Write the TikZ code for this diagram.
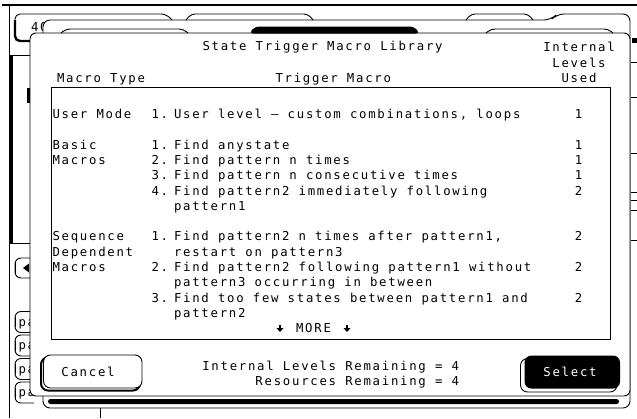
\documentclass[tikz,border=0pt]{standalone}
\usepackage{fontspec}
\newfontfamily\hpfont[LetterSpace=14.2]{DejaVu Sans Mono}
\begin{document}
\begin{tikzpicture}[x=1pt,y=-1pt,line width=0.9pt,
  hp/.style={font=\hpfont\fontsize{12.3}{14}\selectfont, inner sep=0pt, outer sep=0pt},
  lw/.style={hp, anchor=base west},
  lc/.style={hp, anchor=base},
  le/.style={hp, anchor=base east},
  soft/.style={rounded corners=4pt},
  thickline/.style={line width=2.4pt},
  bgbtn/.style={rounded corners=6pt},
  edgetick/.style={line width=0.9pt}
]
\useasboundingbox (0,0) rectangle (637,418);
\fill[white] (0,0) rectangle (637,418);

% ---- background screen ----
\draw[line width=2.2pt] (2,5) -- (637,5);
\draw (9,5) -- (9,418);
\draw (9,55) -- (30,55);
\draw (9,243) -- (30,243);
\draw[line width=3pt] (11.5,55) -- (11.5,243);
\draw[line width=2.5pt] (28.5,88) -- (28.5,103);

% "40" tab
\draw[rounded corners=5pt] (15,30) -- (15,14) -- (166,14) -- (172,20);
\draw[thickline, rounded corners=5pt] (15,20) -- (15,41) -- (32,41);
\node[lw] (t40) at (31,31.5) {40};

% left background buttons
\draw[bgbtn] (32,258) -- (15,258) -- (15,278) -- (32,278);
\draw[line width=1.8pt] (15.5,263) -- (15.5,273);
\fill (23,268) -- (29,263.5) -- (29,272.5) -- cycle;

\foreach \yy/\tt/\nm in {322/pa/pa1, 345.5/pa/pa2, 369/pa/pa3, 392.5/pat/pa4}{
  \draw[bgbtn] (34,\yy-10.5) -- (15,\yy-10.5) -- (15,\yy+10.5) -- (34,\yy+10.5);
  \draw[line width=1.8pt] (15.5,\yy-5) -- (15.5,\yy+5);
  \node[lw] (\nm) at (18.5,\yy+4.2) {\tt};
}

% right edge marks
\fill (632,38) rectangle (637,43);
\foreach \yy in {62,97,153,192,200,210,240}{ \draw[edgetick] (631,\yy) -- (637,\yy); }

% second window (behind the dialog)
\draw[fill=white, rounded corners=7pt] (43,408) -- (43,20) -- (551,20) -- (557,14) -- (630,14) -- (630,408) -- cycle;
\draw[soft] (186,20) -- (191,14) -- (308,14) -- (313,20);
\draw[soft] (466,20) -- (471,14) -- (528,14) -- (533,20);

% bottom black bar
\fill[rounded corners=2.5pt] (48,399) rectangle (619,404);
\draw (100,408) -- (100,418);

% ---- front dialog ----
\draw[fill=white, rounded corners=6pt] (30,33) rectangle (630,396);
\draw[soft] (61,33) -- (66,29) -- (183,29) -- (188,33);
\fill[soft] (249,33.5) -- (255,26.5) -- (414,26.5) -- (420,33.5) -- cycle;
\draw[soft] (486,33) -- (491,29) -- (608,29) -- (613,33);

% header
\node[lw] (title) at (202.5,50.5) {State Trigger Macro Library};
\node[lw] (hdtype) at (57,82) {Macro Type};
\node[lw] (hdmacro) at (275.5,82) {Trigger Macro};
\node[lc] (hdint) at (579,51.5) {Internal};
\node[lc] (hdlev) at (579,67) {Levels};
\node[lc] (hdused) at (579,82.5) {Used};

% list box
\draw (51,87) rectangle (610,339);

% rows
\node[lw] (g0) at (52.5,118.5) {User Mode};
\node[lw] (n0) at (151.5,118.5) {1.};
\node[lw] (m0) at (174,118.5) {User level — custom combinations, loops};
\node[lc] (u0) at (578.6,118.5) {1};

\node[lw] (g2) at (52.5,149.1) {Basic};
\node[lw] (n2) at (151.5,149.1) {1.};
\node[lw] (m2) at (174,149.1) {Find anystate};
\node[lc] (u2) at (578.6,149.1) {1};

\node[lw] (g3) at (52.5,164.4) {Macros};
\node[lw] (n3) at (151.5,164.4) {2.};
\node[lw] (m3) at (174,164.4) {Find pattern n times};
\node[lc] (u3) at (578.6,164.4) {1};

\node[lw] (n4) at (151.5,179.7) {3.};
\node[lw] (m4) at (174,179.7) {Find pattern n consecutive times};
\node[lc] (u4) at (578.6,179.7) {1};

\node[lw] (n5) at (151.5,195) {4.};
\node[lw] (m5) at (174,195) {Find pattern2 immediately following};
\node[lc] (u5) at (578.6,195) {2};

\node[lw] (m6) at (174,210.3) {pattern1};

\node[lw] (g8) at (52.5,240.9) {Sequence};
\node[lw] (n8) at (151.5,240.9) {1.};
\node[lw] (m8) at (174,240.9) {Find pattern2 n times after pattern1,};
\node[lc] (u8) at (578.6,240.9) {2};

\node[lw] (g9) at (52.5,256.2) {Dependent};
\node[lw] (m9) at (174,256.2) {restart on pattern3};

\node[lw] (g10) at (52.5,271.5) {Macros};
\node[lw] (n10) at (151.5,271.5) {2.};
\node[lw] (m10) at (174,271.5) {Find pattern2 following pattern1 without};
\node[lc] (u10) at (578.6,271.5) {2};

\node[lw] (m11) at (174,286.8) {pattern3 occurring in between};

\node[lw] (n12) at (151.5,302.1) {3.};
\node[lw] (m12) at (174,302.1) {Find too few states between pattern1 and};
\node[lc] (u12) at (578.6,302.1) {2};

\node[lw] (m13) at (174,317.4) {pattern2};

% more indicator
\node[lc] (more) at (313.5,332.7) {MORE};
\foreach \ax in {280,347}{
  \fill (\ax-1,324.5) rectangle (\ax+1,328.5);
  \fill (\ax-3.5,328) -- (\ax+3.5,328) -- (\ax,332) -- cycle;
}

% bottom status
\node[le] (rem1) at (459,370.5) {Internal Levels Remaining = 4};
\node[le] (rem2) at (459,385.5) {Resources Remaining = 4};

% buttons
\draw[line width=2pt, rounded corners=7pt] (41,357.5) rectangle (140,390.5);
\draw[fill=white, rounded corners=7pt] (43.5,355) rectangle (142,388);
\node[lc] (cancel) at (88,376.5) {Cancel};

\draw[fill=white, rounded corners=7pt] (520.5,358.5) rectangle (617,392);
\fill[rounded corners=7pt] (524.5,355.5) rectangle (620,388.5);
\node[lc, text=white] (select) at (570,376.5) {Select};
\end{tikzpicture}
\end{document}
